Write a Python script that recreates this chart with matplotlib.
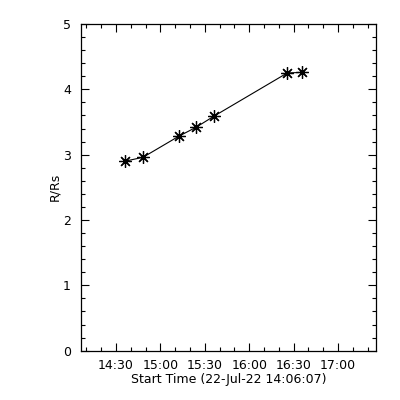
import matplotlib
matplotlib.use("Agg")
import matplotlib.pyplot as plt
from matplotlib.ticker import FixedLocator, MultipleLocator

# Data: minutes after 14:06:07 and heights in R/Rs
t_minutes = [29.9, 42.1, 66.1, 78.0, 90.1, 139.5, 149.8]
r_rs = [2.90, 2.96, 3.28, 3.42, 3.59, 4.25, 4.26]

tick_labels = ["14:30", "15:00", "15:30", "16:00", "16:30", "17:00"]
tick_minutes = [23.883, 53.883, 83.883, 113.883, 143.883, 173.883]
x_range = [0, 199.5]
y_range = [0, 5]

fig = plt.figure(figsize=(4, 4), dpi=100)
ax = fig.add_axes([0.2018, 0.1233, 0.9400 - 0.2018, 0.9400 - 0.1233])

ax.plot(t_minutes, r_rs, color="black", linewidth=0.8,
        marker=(8, 2, 0), markersize=9, markeredgewidth=0.9)

ax.set_xlim(*x_range)
ax.set_ylim(*y_range)

ax.xaxis.set_major_locator(FixedLocator(tick_minutes))
minor = [tick_minutes[0] + 10 * k for k in range(-2, 18)]
ax.xaxis.set_minor_locator(FixedLocator(minor))
ax.set_xticklabels(tick_labels)
ax.yaxis.set_major_locator(MultipleLocator(1))
ax.yaxis.set_minor_locator(MultipleLocator(0.2))

ax.tick_params(which="both", direction="in", top=True, right=True,
               width=0.8, labelsize=9)
ax.tick_params(which="major", length=6, pad=6)
ax.tick_params(axis="y", which="major", pad=7)
ax.tick_params(which="minor", length=3)
for s in ax.spines.values():
    s.set_linewidth(0.9)

ax.set_xlabel("Start Time (22-Jul-22 14:06:07)", fontsize=9, labelpad=1)
ax.set_ylabel("R/Rs", fontsize=9, labelpad=1)

fig.savefig("out.png", dpi=100)
